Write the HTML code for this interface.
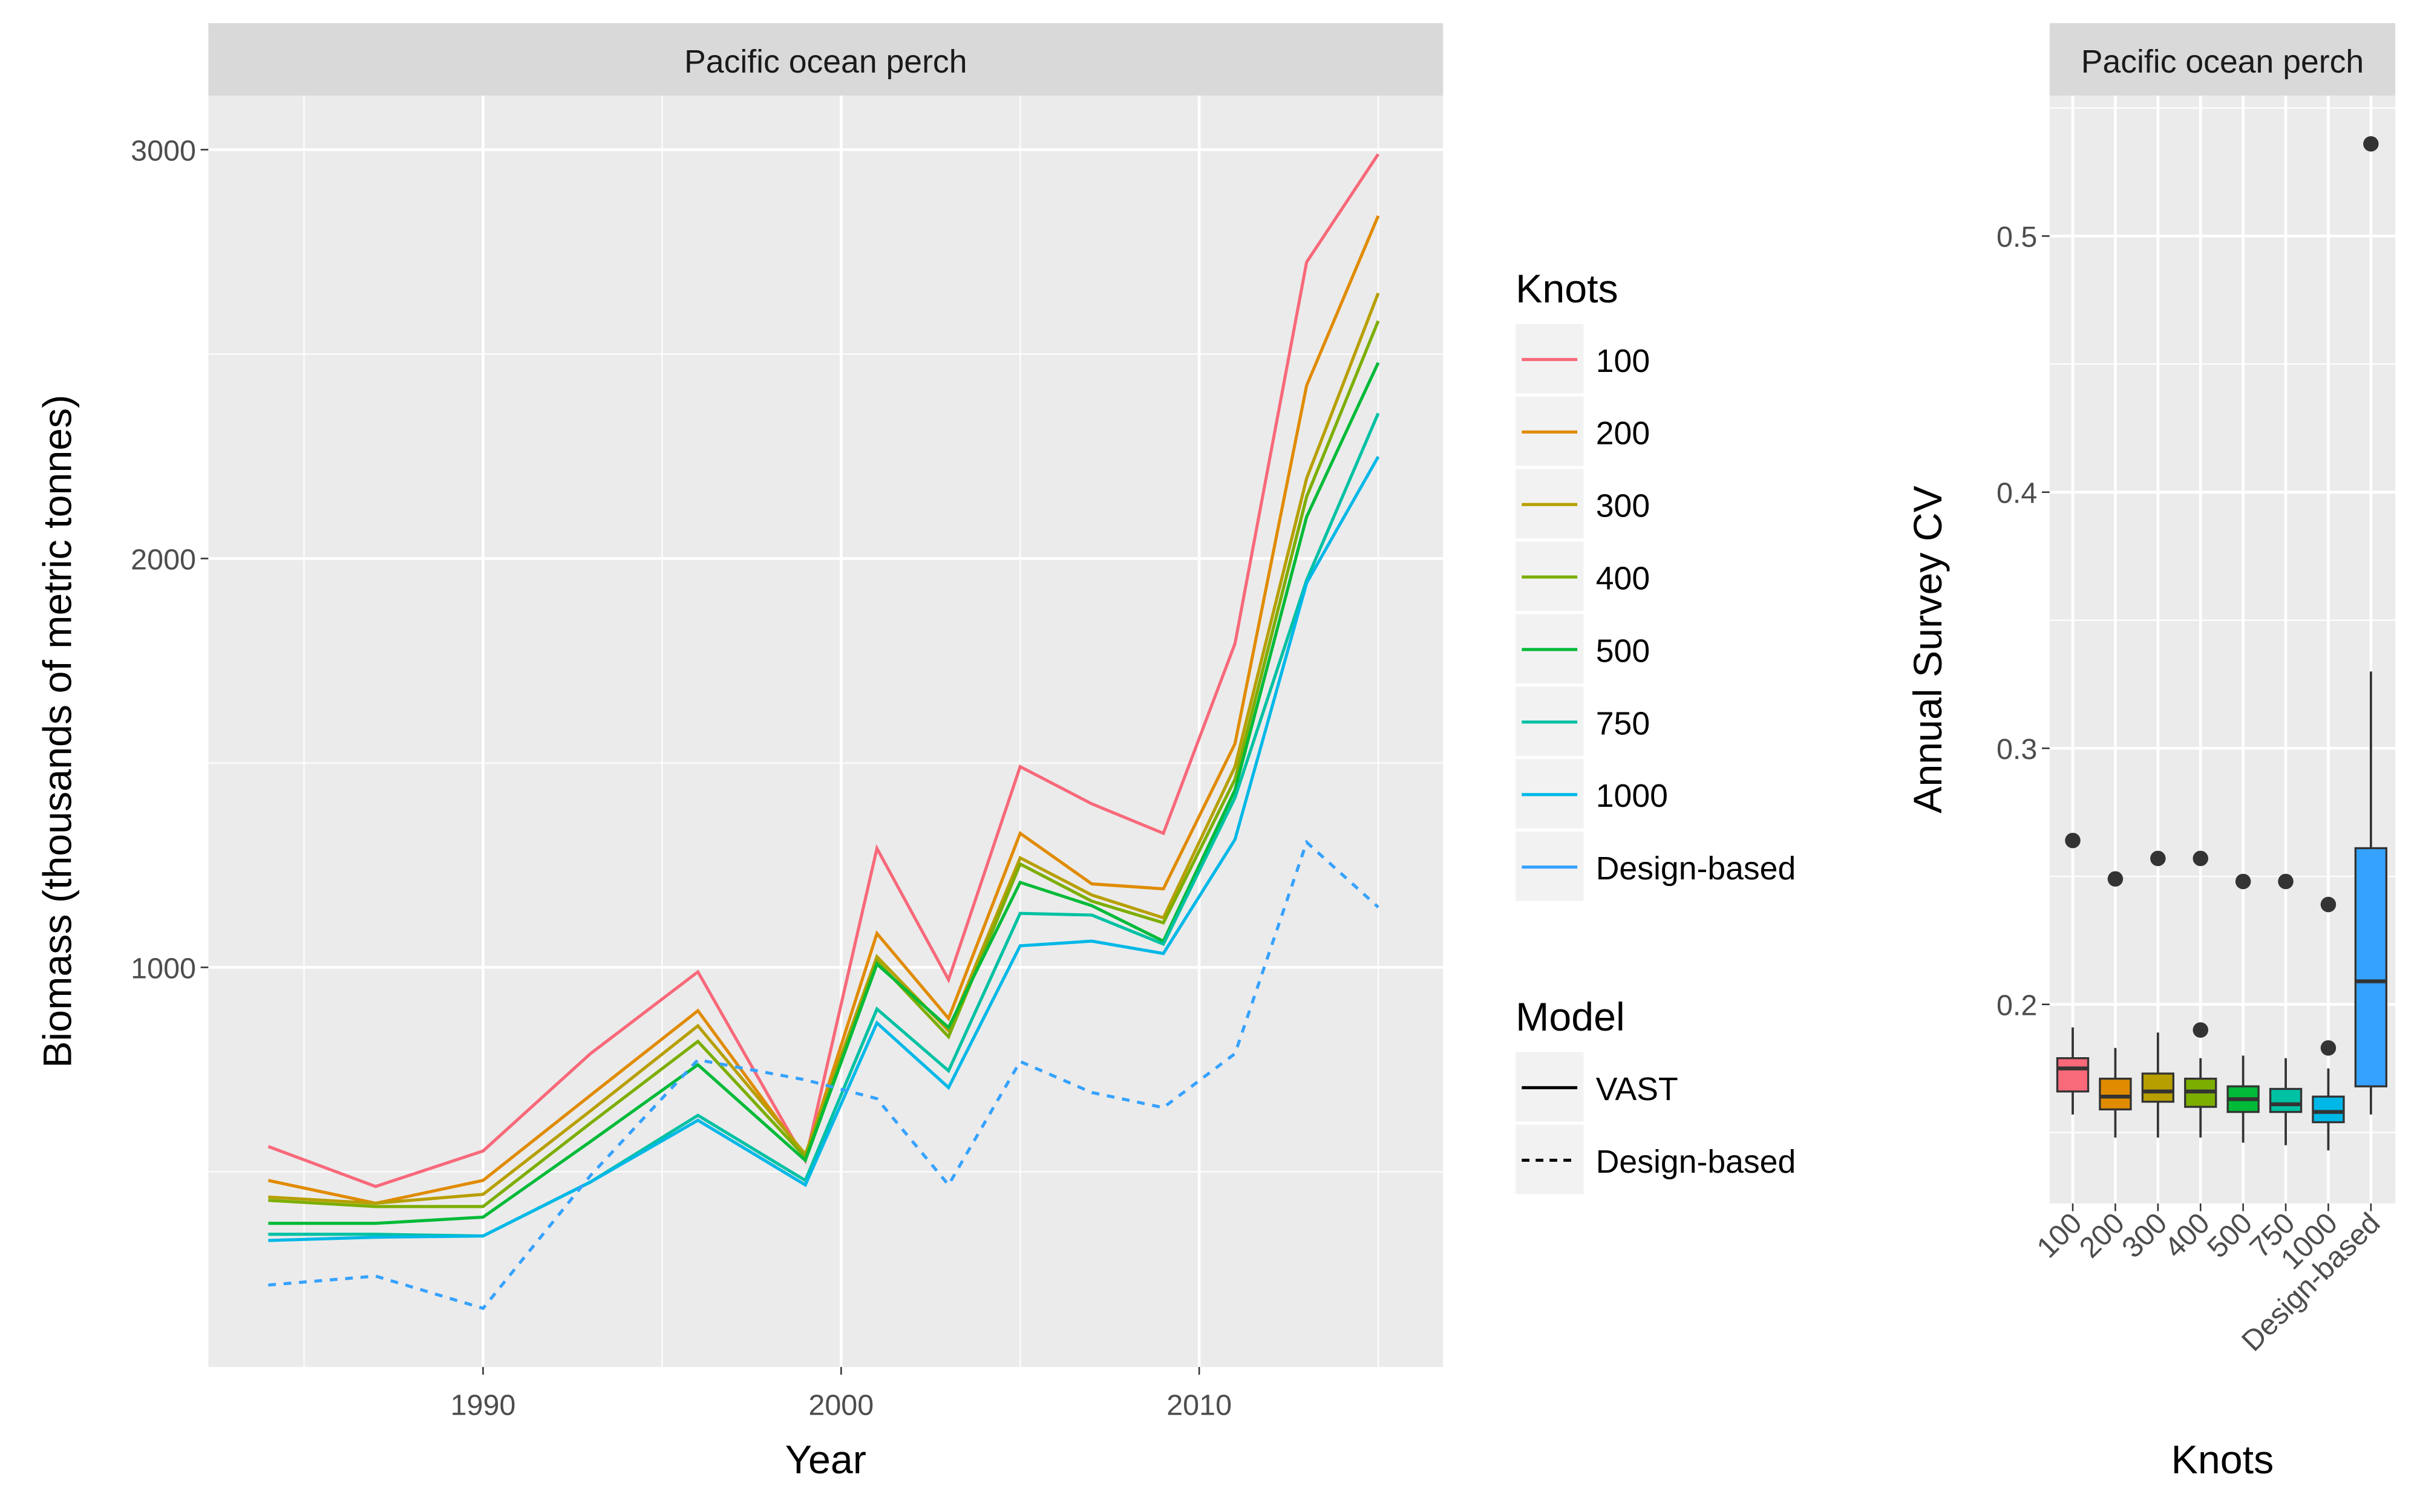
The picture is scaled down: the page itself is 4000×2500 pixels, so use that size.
<!DOCTYPE html>
<html><head><meta charset="utf-8"><style>
html,body{margin:0;padding:0;background:#fff;}
svg{display:block;font-family:"Liberation Sans",sans-serif;}
</style></head><body>
<svg id="chart" width="4000" height="2500" viewBox="0 0 1568 980" xmlns="http://www.w3.org/2000/svg">
<rect width="1568" height="980" fill="#fff"/>
<g id="left"></g>
<g id="right"></g>
<g id="legend"></g>
</svg>
<script>
const years=[1984,1987,1990,1993,1996,1999,2001,2003,2005,2007,2009,2011,2013,2015];
const knotNames=["100","200","300","400","500","750","1000","Design-based"];
const colors=["#F8697A","#E08B00","#B79F00","#7CAE00","#00BA38","#00C1A3","#00B8E7","#35A2FF"];
const s100=[562,464,551,789,989,528,1291,970,1491,1400,1328,1792,2725,2989];
const s200=[479,423,479,687,894,536,1083,875,1328,1204,1192,1547,2423,2838];
const s300=[438,423,445,649,857,543,1026,845,1268,1177,1121,1491,2196,2649];
const s400=[430,415,415,619,819,536,1015,830,1253,1162,1109,1460,2151,2581];
const s500=[374,374,389,574,762,528,1008,853,1208,1151,1064,1434,2102,2479];
const s750=[347,347,343,475,638,479,898,747,1132,1128,1057,1415,1947,2355];
const s1000=[332,340,343,475,626,468,864,706,1053,1064,1034,1313,1940,2249];
const sDesign=[223,245,166,491,774,725,679,468,770,694,657,789,1306,1147];
const yTicks=[1000,2000,3000];
const xTicks=[1990,2000,2010];
// CV boxplots
const cvLo=[0.157,0.148,0.148,0.148,0.146,0.145,0.143,0.157];
const cvQ1=[0.166,0.159,0.162,0.160,0.158,0.158,0.154,0.168];
const cvMed=[0.175,0.164,0.166,0.166,0.163,0.161,0.158,0.209];
const cvQ3=[0.179,0.171,0.173,0.171,0.168,0.167,0.164,0.261];
const cvHi=[0.191,0.183,0.189,0.179,0.180,0.179,0.175,0.330];
const cvOut=[[0.264],[0.249],[0.257],[0.190,0.257],[0.248],[0.248],[0.183,0.239],[0.536]];
const cvTicks=[0.2,0.3,0.4,0.5];

const NS="http://www.w3.org/2000/svg";
function mk(parent,tag,attrs,text){const e=document.createElementNS(NS,tag);for(const k in attrs)e.setAttribute(k,attrs[k]);if(text!==undefined)e.textContent=text;parent.appendChild(e);return e;}

// Left panel
const L=document.getElementById('left');
const px0=135,px1=935,py0=62,py1=886;
const xs=y=>313+(y-1990)*23.2;
const ys=v=>627-(v-1000)*0.265;
let e;
e=mk(L,'rect',{x:px0,y:15,width:px1-px0,height:47,fill:'#D9D9D9'});

e=mk(L,'text',{x:(px0+px1)/2,y:47,'text-anchor':'middle','font-size':21,fill:'#1a1a1a'},'Pacific ocean perch');

e=mk(L,'rect',{x:px0,y:py0,width:px1-px0,height:py1-py0,fill:'#EBEBEB'});

[500,1500,2500].forEach(v=>mk(L,'line',{x1:px0,x2:px1,y1:ys(v),y2:ys(v),stroke:'#fff','stroke-width':0.8}));
[1985,1995,2005,2015].forEach(v=>mk(L,'line',{y1:py0,y2:py1,x1:xs(v),x2:xs(v),stroke:'#fff','stroke-width':0.8}));
yTicks.forEach(v=>{mk(L,'line',{x1:px0,x2:px1,y1:ys(v),y2:ys(v),stroke:'#fff','stroke-width':1.8});
 mk(L,'line',{x1:px0-5,x2:px0,y1:ys(v),y2:ys(v),stroke:'#333','stroke-width':1});
 e=mk(L,'text',{x:px0-8,y:ys(v)+7,'text-anchor':'end','font-size':19,fill:'#4d4d4d'},v);
 });
xTicks.forEach(v=>{mk(L,'line',{y1:py0,y2:py1,x1:xs(v),x2:xs(v),stroke:'#fff','stroke-width':1.8});
 mk(L,'line',{y1:py1,y2:py1+5,x1:xs(v),x2:xs(v),stroke:'#333','stroke-width':1});
 e=mk(L,'text',{x:xs(v),y:py1+31,'text-anchor':'middle','font-size':19,fill:'#4d4d4d'},v);
 });
const series=[s100,s200,s300,s400,s500,s750,s1000,sDesign];
series.forEach((s,i)=>{
 const d=s.map((v,j)=>(j?'L':'M')+xs(years[j]).toFixed(1)+','+ys(v).toFixed(1)).join('');
 const p=mk(L,'path',{d:d,fill:'none',stroke:colors[i],'stroke-width':2});
 if(i===7)p.setAttribute('stroke-dasharray','5,5');
 
 
});
e=mk(L,'text',{x:535,y:955,'text-anchor':'middle','font-size':26,fill:'#000'},'Year');

e=mk(L,'text',{x:0,y:0,transform:'translate(46,474) rotate(-90)','text-anchor':'middle','font-size':26,fill:'#000'},'Biomass (thousands of metric tonnes)');


// Right panel
const R=document.getElementById('right');
const rx0=1328,rx1=1552,ry0=62,ry1=780;
const cy=v=>651-(v-0.2)*1660;
const cx=i=>1343+i*27.6;
e=mk(R,'rect',{x:rx0,y:15,width:rx1-rx0,height:47,fill:'#D9D9D9'});

e=mk(R,'text',{x:(rx0+rx1)/2,y:47,'text-anchor':'middle','font-size':21,fill:'#1a1a1a'},'Pacific ocean perch');

e=mk(R,'rect',{x:rx0,y:ry0,width:rx1-rx0,height:ry1-ry0,fill:'#EBEBEB'});

[0.15,0.25,0.35,0.45,0.55].forEach(v=>{if(cy(v)>ry0)mk(R,'line',{x1:rx0,x2:rx1,y1:cy(v),y2:cy(v),stroke:'#fff','stroke-width':0.8});});
cvTicks.forEach(v=>{mk(R,'line',{x1:rx0,x2:rx1,y1:cy(v),y2:cy(v),stroke:'#fff','stroke-width':1.8});
 mk(R,'line',{x1:rx0-5,x2:rx0,y1:cy(v),y2:cy(v),stroke:'#333','stroke-width':1});
 e=mk(R,'text',{x:rx0-8,y:cy(v)+7,'text-anchor':'end','font-size':19,fill:'#4d4d4d'},v.toFixed(1));
 });
knotNames.forEach((n,i)=>{
 mk(R,'line',{y1:ry0,y2:ry1,x1:cx(i),x2:cx(i),stroke:'#fff','stroke-width':1.8});
 mk(R,'line',{y1:ry1,y2:ry1+5,x1:cx(i),x2:cx(i),stroke:'#333','stroke-width':1});
 e=mk(R,'text',{x:0,y:0,transform:`translate(${cx(i)+7},${ry1+14}) rotate(-45)`,'text-anchor':'end','font-size':19,fill:'#4d4d4d'},n);
 
});
knotNames.forEach((n,i)=>{
 const g=mk(R,'g',{});
 
 
 const x=cx(i),w=20;
 mk(g,'line',{x1:x,x2:x,y1:cy(cvHi[i]),y2:cy(cvQ3[i]),stroke:'#333','stroke-width':1.5});
 mk(g,'line',{x1:x,x2:x,y1:cy(cvQ1[i]),y2:cy(cvLo[i]),stroke:'#333','stroke-width':1.5});
 mk(g,'rect',{x:x-w/2,y:cy(cvQ3[i]),width:w,height:cy(cvQ1[i])-cy(cvQ3[i]),fill:colors[i],stroke:'#333','stroke-width':1.3});
 mk(g,'line',{x1:x-w/2,x2:x+w/2,y1:cy(cvMed[i]),y2:cy(cvMed[i]),stroke:'#333','stroke-width':2.5});
 cvOut[i].forEach(o=>mk(g,'circle',{cx:x,cy:cy(o),r:5,fill:'#333'}));
});
e=mk(R,'text',{x:1440,y:955,'text-anchor':'middle','font-size':26,fill:'#000'},'Knots');

e=mk(R,'text',{x:0,y:0,transform:'translate(1258,421) rotate(-90)','text-anchor':'middle','font-size':26,fill:'#000'},'Annual Survey CV');


// Legend
const G=document.getElementById('legend');
e=mk(G,'text',{x:982,y:196,'font-size':26,fill:'#000'},'Knots');

knotNames.forEach((n,i)=>{
 const g=mk(G,'g',{});
 
 
 const y=210+i*47;
 mk(g,'rect',{x:982,y:y,width:44,height:45,fill:'#F2F2F2'});
 mk(g,'line',{x1:986,x2:1022,y1:y+23,y2:y+23,stroke:colors[i],'stroke-width':2});
 mk(g,'text',{x:1034,y:y+31,'font-size':21,fill:'#000'},n);
});
e=mk(G,'text',{x:982,y:668,'font-size':26,fill:'#000'},'Model');

['VAST','Design-based'].forEach((n,i)=>{
 const g=mk(G,'g',{});
 
 
 const y=682+i*47;
 mk(g,'rect',{x:982,y:y,width:44,height:45,fill:'#F2F2F2'});
 const l=mk(g,'line',{x1:986,x2:1022,y1:y+23,y2:y+23,stroke:'#000','stroke-width':2});
 if(i)l.setAttribute('stroke-dasharray','5,4');
 mk(g,'text',{x:1034,y:y+31,'font-size':21,fill:'#000'},n);
});
</script>
</body></html>
